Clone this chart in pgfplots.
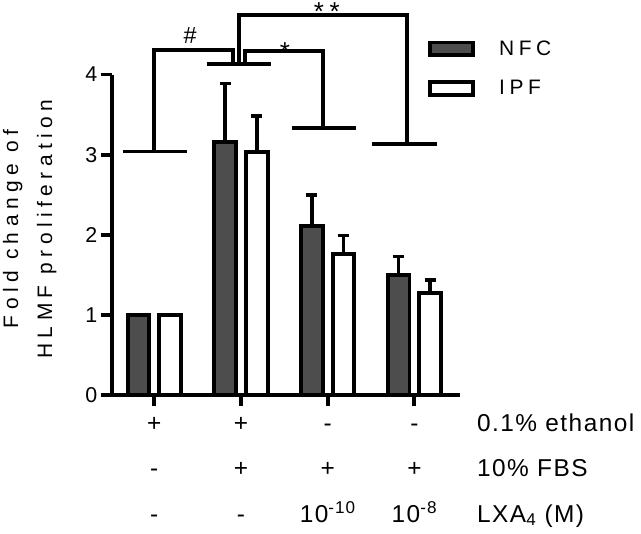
\documentclass[border=0pt]{standalone}
\usepackage{fontspec}
\setmainfont{Liberation Sans}
\newfontfamily\ylabfont[LetterSpace=26]{Liberation Sans}
\newfontfamily\legfont[LetterSpace=22]{Liberation Sans}
\newfontfamily\rowfont[LetterSpace=6]{Liberation Sans}
\usepackage{pgfplots}
\pgfplotsset{compat=1.18}
\definecolor{nfcgray}{RGB}{77,77,77}

\begin{document}
\begin{tikzpicture}
\useasboundingbox (0,0) rectangle (641bp,534bp);
\begin{axis}[
    at={(111.7bp,139bp)}, anchor=south west,
    scale only axis, width=348.3bp, height=320.4bp,
    xmin=-0.491, xmax=3.526, ymin=0, ymax=4,
    axis x line=bottom, axis y line=left,
    axis line style={-, line width=3.8bp, black},
    ybar, bar width=21.7bp,
    xtick={0,1,2,3}, xticklabels={},
    ytick={0,1,2,3,4},
    tick align=outside, major tick length=11bp,
    tick style={line width=3.8bp, black},
    /pgf/number format/assume math mode=true,
    yticklabel style={font=\fontsize{21.5}{22}\selectfont},
    clip=false,
    ylabel={Fold change of\\HLMF proliferation},
    ylabel style={at={(axis description cs:-0.313,0.518)}, anchor=north,
        align=center, inner sep=0pt,
        font=\ylabfont\fontsize{21}{34.3}\selectfont},
    legend style={draw=none, fill=none, at={(axis description cs:0.909,1.106)},
        anchor=north west, inner sep=0pt, outer sep=0pt,
        row sep=23bp,
        nodes={inner sep=0pt, font=\legfont\fontsize{21}{25}\selectfont},
        /tikz/every odd column/.append style={column sep=24bp}},
    legend cell align=left,
]
% NFC
\addplot[fill=nfcgray, draw=black, line width=3.8bp, bar shift=-15.8bp,
    legend image code/.code={\draw[fill=nfcgray, draw=black, line width=3.8bp] (0bp,-6.4bp) rectangle (43bp,6.4bp);},
    error bars/.cd, y dir=plus, y explicit,
    error bar style={line width=3.8bp, black},
    error mark options={rotate=90, line width=3.8bp, black, mark size=5.6bp}]
    coordinates {(0,1.00) +- (0,0) (1,3.16) +- (0,0.73) (2,2.11) +- (0,0.39) (3,1.50) +- (0,0.23)};
\addlegendentry{NFC}
% IPF
\addplot[fill=white, draw=black, line width=3.8bp, bar shift=15.8bp,
    legend image code/.code={\draw[fill=white, draw=black, line width=3.8bp] (0bp,-6.4bp) rectangle (43bp,6.4bp);},
    error bars/.cd, y dir=plus, y explicit,
    error bar style={line width=3.8bp, black},
    error mark options={rotate=90, line width=3.8bp, black, mark size=5.6bp}]
    coordinates {(0,1.00) +- (0,0) (1,3.035) +- (0,0.445) (2,1.76) +- (0,0.23) (3,1.27) +- (0,0.17)};
\addlegendentry{IPF}

% significance brackets
\begin{scope}[line width=3.8bp]
\draw (axis cs:-0.358,3.04) -- (axis cs:0.381,3.04);
\draw (axis cs:0.604,4.132) -- (axis cs:1.346,4.132);
\draw (axis cs:1.588,3.33) -- (axis cs:2.326,3.33);
\draw (axis cs:2.511,3.13) -- (axis cs:3.261,3.13);
\draw (axis cs:0,3.04) -- (axis cs:0,4.31) -- (axis cs:0.904,4.31) -- (axis cs:0.904,4.132);
\draw (axis cs:1.046,4.132) -- (axis cs:1.046,4.297) -- (axis cs:1.949,4.297) -- (axis cs:1.949,3.33);
\draw (axis cs:0.973,4.132) -- (axis cs:0.973,4.747) -- (axis cs:2.911,4.747) -- (axis cs:2.911,3.13);
\end{scope}
\node[anchor=base, inner sep=0pt, font=\fontsize{23.5}{24}\selectfont] at (axis cs:0.413,4.39) {\#};
\node[anchor=base, inner sep=0pt, font=\fontsize{26}{26}\selectfont] at (axis cs:1.507,4.18) {*};
\node[anchor=base, inner sep=0pt, font=\legfont\fontsize{26}{26}\selectfont] at (axis cs:1.99,4.67) {**};

% treatment table
\begin{scope}[every node/.style={inner sep=0pt, font=\rowfont\fontsize{24.5}{26}\selectfont}]
\node[anchor=base] at (axis cs:0,-0.458) {+};
\node[anchor=base] at (axis cs:1,-0.458) {+};
\node[anchor=base] at (axis cs:2,-0.458) {-};
\node[anchor=base] at (axis cs:3,-0.458) {-};
\node[anchor=base] at (axis cs:0,-1.020) {-};
\node[anchor=base] at (axis cs:1,-1.020) {+};
\node[anchor=base] at (axis cs:2,-1.020) {+};
\node[anchor=base] at (axis cs:3,-1.020) {+};
\node[anchor=base] at (axis cs:0,-1.586) {-};
\node[anchor=base] at (axis cs:1,-1.586) {-};
\node[anchor=base] at (axis cs:2,-1.586) {10\textsuperscript{-10}};
\node[anchor=base] at (axis cs:3,-1.586) {10\textsuperscript{-8}};
\node[anchor=base west] at (axis cs:3.722,-0.458) {0.1\% ethanol};
\node[anchor=base west] at (axis cs:3.722,-1.020) {10\% FBS};
\node[anchor=base west] at (axis cs:3.722,-1.586) {LXA\textsubscript{4} (M)};
\end{scope}
\end{axis}
\end{tikzpicture}
\end{document}
